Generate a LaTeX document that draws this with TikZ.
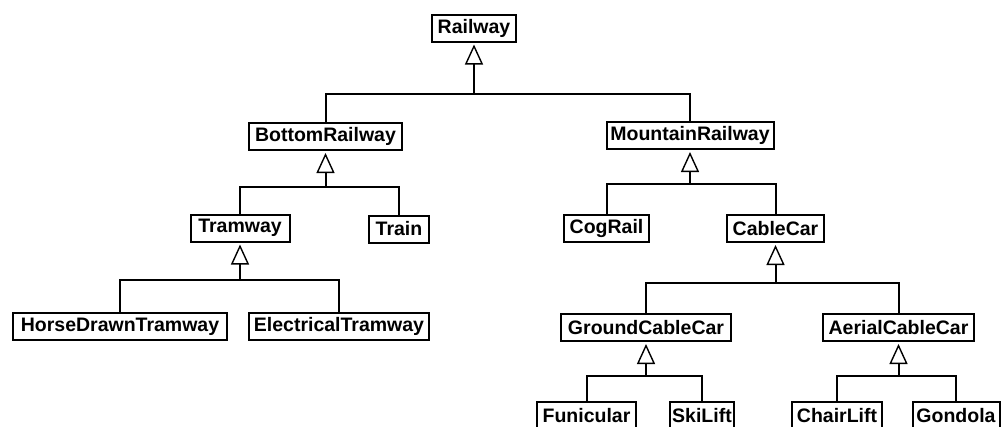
\documentclass[tikz,border=0pt]{standalone}
\usepackage{fontspec}
\setmainfont{Liberation Sans}
\usetikzlibrary{arrows.meta}
\begin{document}
\begin{tikzpicture}[x=1pt,y=-1pt,
  cls/.style={draw, line width=2pt, fill=white, minimum height=27pt,
    inner xsep=1pt, inner ysep=0pt,
    font=\fontsize{19.5}{20}\selectfont\bfseries},
  link/.style={line width=2pt},
  inherit/.style={line width=2pt, shorten >=2pt,
    -{Triangle[open, length=20pt, width=18pt, fill=white, line width=1.4pt]}}
]
\useasboundingbox (0,0) rectangle (1003,426);
\clip (0,0) rectangle (1003,426);
\fill[white] (0,0) rectangle (1003,426);

% classes
\node[cls, minimum width=84]  (rail)  at (474,28)    {Railway};
\node[cls, minimum width=153] (bot)   at (325.5,136.5) {BottomRailway};
\node[cls, minimum width=167] (mnt)   at (690,135.5) {MountainRailway};
\node[cls, minimum width=99]  (tram)  at (240,228)   {Tramway};
\node[cls, minimum width=60]  (train) at (399,229)   {Train};
\node[cls, minimum width=214] (horse) at (120,326.5) {HorseDrawnTramway};
\node[cls, minimum width=180] (elec)  at (339,326.5) {ElectricalTramway};
\node[cls, minimum width=85]  (cog)   at (606.5,228.5) {CogRail};
\node[cls, minimum width=97]  (cable) at (775.5,228.5) {CableCar};
\node[cls, minimum width=170] (gcc)   at (646,327.5) {GroundCableCar};
\node[cls, minimum width=151] (acc)   at (898.5,327.5) {AerialCableCar};
\node[cls, minimum width=99]  (fun)   at (586.5,415.5) {Funicular};
\node[cls, minimum width=64]  (ski)   at (702,415.5) {SkiLift};
\node[cls, minimum width=90]  (chair) at (837,415.5) {ChairLift};
\node[cls, minimum width=87]  (gond)  at (956,415.5) {Gondola};

% junction points of the generalisation bars
\coordinate (j1) at (474,94);
\coordinate (j2) at (325.5,187);
\coordinate (j3) at (690,184);
\coordinate (j4) at (240,280);
\coordinate (j5) at (775.5,283);
\coordinate (j6) at (646,376);
\coordinate (j7) at (898.5,376);

% generalisation arrows
\draw[inherit] (j1) -- (rail.south);
\draw[inherit] (j2) -- (bot.south);
\draw[inherit] (j3) -- (mnt.south);
\draw[inherit] (j4) -- (tram.south);
\draw[inherit] (j5) -- (cable.south);
\draw[inherit] (j6) -- (gcc.south);
\draw[inherit] (j7) -- (acc.south);

% subclass branches
\draw[link] (bot.north) |- (j1) -| (mnt.north);
\draw[link] (tram.north) |- (j2) -| (train.north);
\draw[link] (cog.north) |- (j3) -| (cable.north);
\draw[link] (horse.north) |- (j4) -| (elec.north);
\draw[link] (gcc.north) |- (j5) -| (acc.north);
\draw[link] (fun.north) |- (j6) -| (ski.north);
\draw[link] (chair.north) |- (j7) -| (gond.north);
\end{tikzpicture}
\end{document}
